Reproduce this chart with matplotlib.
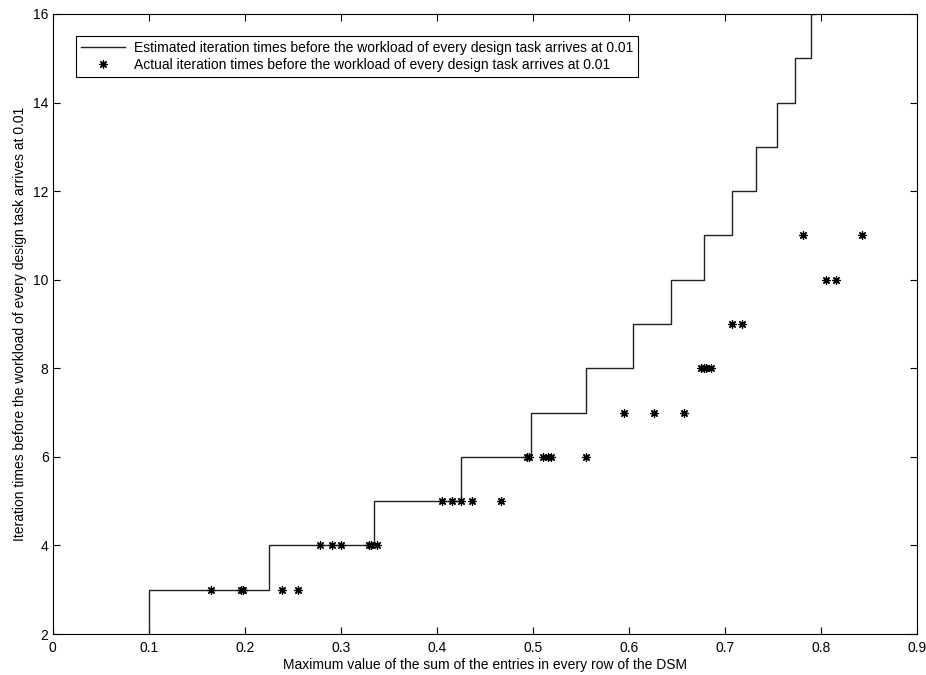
import numpy as np
import matplotlib
matplotlib.use('Agg')
import matplotlib.pyplot as plt
from matplotlib.ticker import FormatStrFormatter

plt.rcParams['font.family'] = ['Liberation Sans', 'DejaVu Sans']

# estimated iteration times: x where each level starts, and the levels
est_x = [0.1, 0.1, 0.225, 0.335, 0.425, 0.498, 0.556, 0.604, 0.6445,
         0.678, 0.708, 0.733, 0.754, 0.773, 0.790, 0.795]
est_y = [2, 3, 4, 5, 6, 7, 8, 9, 10, 11, 12, 13, 14, 15, 16, 17]

# actual iteration times
act_x = [0.165, 0.196, 0.198, 0.239, 0.256,
         0.278, 0.291, 0.300, 0.329, 0.332, 0.338,
         0.405, 0.416, 0.425, 0.437, 0.467,
         0.494, 0.496, 0.511, 0.516, 0.519, 0.555,
         0.595, 0.626, 0.658,
         0.675, 0.678, 0.680, 0.686,
         0.708, 0.718,
         0.806, 0.816,
         0.782, 0.843]
act_y = [3]*5 + [4]*6 + [5]*5 + [6]*6 + [7]*3 + [8]*4 + [9]*2 + [10]*2 + [11]*2

fig = plt.figure(figsize=(9.26, 6.75), dpi=100)
ax = fig.add_axes([0.0569, 0.0607, 0.9331, 0.9186])

ax.step(est_x + [0.9], est_y + [17], where='post', color='#222222', lw=1.0,
        label='Estimated iteration times before the workload of every design task arrives at 0.01')
ax.plot(act_x, act_y, linestyle='none', marker=(8, 2, 0), markersize=6,
        color='black', markeredgewidth=0.9,
        label='Actual iteration times before the workload of every design task arrives at 0.01')

ax.set_xlim(0, 0.9)
ax.set_ylim(2, 16)
ax.set_xticks(np.arange(0, 0.91, 0.1))
ax.set_yticks(np.arange(2, 17, 2))
ax.xaxis.set_major_formatter(FormatStrFormatter('%g'))
ax.tick_params(direction='in', top=True, right=True, length=5, width=0.8,
               labelsize=10)
ax.tick_params(axis='x', pad=5)
ax.tick_params(axis='y', pad=3)
for s in ax.spines.values():
    s.set_linewidth(0.8)

ax.set_xlabel('Maximum value of the sum of the entries in every row of the DSM',
              fontsize=10, labelpad=2)
ax.set_ylabel('Iteration times before the workload of every design task arrives at 0.01',
              fontsize=10, labelpad=4)

leg = ax.legend(loc='upper left', bbox_to_anchor=(0.027, 0.9645), borderaxespad=0,
                fontsize=10, fancybox=False, framealpha=1, edgecolor='black',
                handlelength=3.2, handletextpad=0.6, borderpad=0.35,
                labelspacing=0.25)
leg.get_frame().set_linewidth(0.8)

fig.savefig('out.png', dpi=100)
